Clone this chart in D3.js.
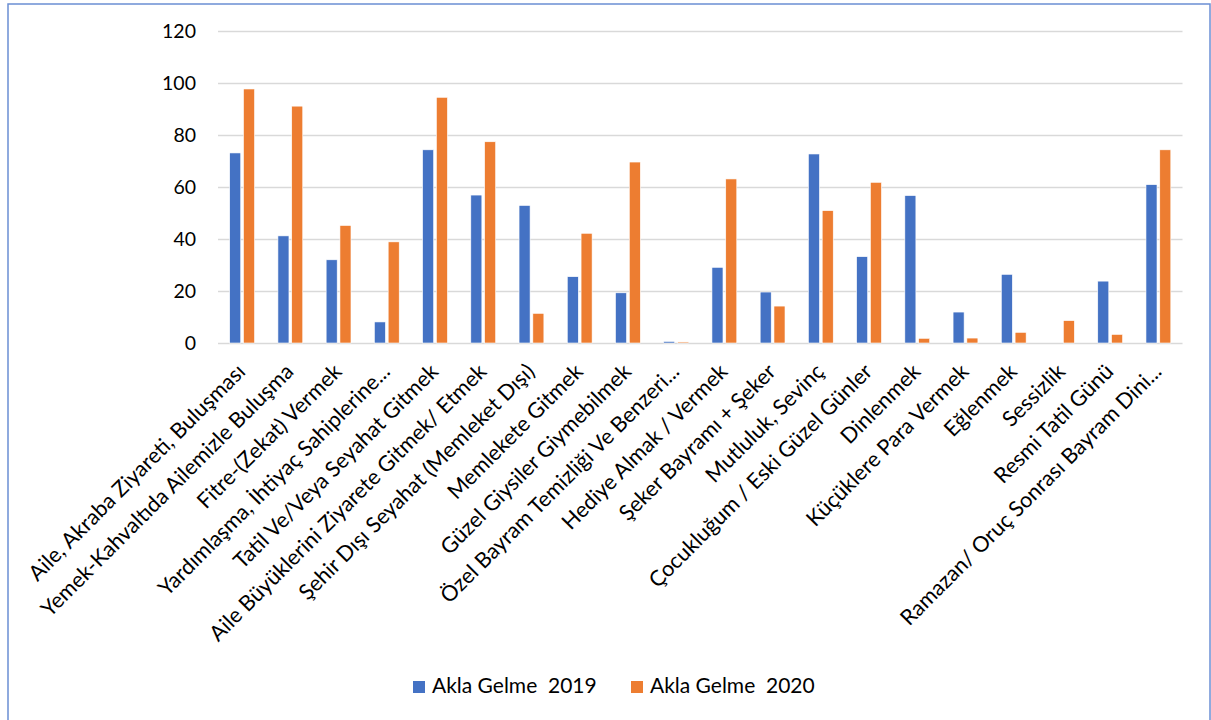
<!DOCTYPE html>
<html>
<head>
<meta charset="utf-8">
<script src="https://cdn.jsdelivr.net/npm/d3@7"></script>
<style>
  body { margin: 0; background: #fff; }
  text { font-family: Lato, "Open Sans", sans-serif; fill: #000; }
</style>
</head>
<body>
<div id="chart"></div>
<script>
// Chart data
var categories = [
  "Aile, Akraba Ziyareti, Buluşması",
  "Yemek-Kahvaltıda Ailemizle Buluşma",
  "Fitre-(Zekat) Vermek",
  "Yardımlaşma, İhtiyaç Sahiplerine...",
  "Tatil Ve/Veya Seyahat Gitmek",
  "Aile Büyüklerini Ziyarete Gitmek/ Etmek",
  "Şehir Dışı Seyahat (Memleket Dışı)",
  "Memlekete Gitmek",
  "Güzel Giysiler Giymebilmek",
  "Özel Bayram Temizliği Ve Benzeri...",
  "Hediye Almak / Vermek",
  "Şeker Bayramı + Şeker",
  "Mutluluk, Sevinç",
  "Çocukluğum / Eski Güzel Günler",
  "Dinlenmek",
  "Küçüklere Para Vermek",
  "Eğlenmek",
  "Sessizlik",
  "Resmi Tatil Günü",
  "Ramazan/ Oruç Sonrası Bayram Dini..."
];
var values2019 = [73.1, 41.2, 32, 8.1, 74.3, 56.9, 52.9, 25.5, 19.3, 0.6, 29.1, 19.6, 72.7, 33.2, 56.7, 11.9, 26.4, 0, 23.8, 60.9];
var values2020 = [97.7, 91.1, 45.2, 38.9, 94.5, 77.4, 11.4, 42.2, 69.6, 0.4, 63.1, 14.2, 50.9, 61.8, 1.8, 1.9, 4.1, 8.6, 3.3, 74.3];
var seriesNames = ["Akla Gelme  2019", "Akla Gelme  2020"];
var seriesColors = ["#4472C4", "#ED7D31"];
var yTicks = [0, 20, 40, 60, 80, 100, 120];

// SVG attributes
var width = 1211;
var height = 720;
var plotLeft = 218;
var plotRight = 1182.5;
var plotTop = 31;
var plotBottom = 343;

var svg = d3.select("#chart")
    .append("svg")
    .attr("width", width)
    .attr("height", height);

// chart border
svg.append("rect")
    .attr("x", 8)
    .attr("y", 4)
    .attr("width", 1202)
    .attr("height", 730)
    .attr("fill", "none")
    .attr("stroke", "#6b8fd4")
    .attr("stroke-width", 1.5);

// Scales
var xScale = d3.scaleBand()
    .domain(categories)
    .range([plotLeft, plotRight])
    .paddingInner(0.485)
    .paddingOuter(0.2425);

var xSeries = d3.scaleBand()
    .domain([0, 1])
    .range([0, xScale.bandwidth()])
    .paddingInner(0.2);

var yScale = d3.scaleLinear()
    .domain([0, 120])
    .range([plotBottom, plotTop]);

// y axis with gridlines
var yAxis = d3.axisLeft(yScale)
    .tickValues(yTicks)
    .tickSize(-(plotRight - plotLeft))
    .tickPadding(22);

var yG = svg.append("g")
    .attr("transform", `translate(${plotLeft}, 0)`)
    .call(yAxis);

yG.select(".domain").remove();
yG.selectAll(".tick line")
    .attr("stroke", "#d9d9d9")
    .attr("stroke-width", 1.4);
yG.selectAll(".tick text")
    .style("font-size", "19.5px")
    .attr("fill", "#000");

// Bars
var rows = categories.map(function(c, i) {
  return { cat: c, vals: [values2019[i], values2020[i]] };
});

var groups = svg.selectAll("g.group")
    .data(rows)
    .enter()
    .append("g")
    .attr("class", "group")
    .attr("transform", function(d) {
      return `translate(${xScale(d.cat)}, 0)`;
    });

groups.selectAll("rect")
    .data(function(d) { return d.vals; })
    .enter()
    .append("rect")
    .attr("x", function(d, i) { return xSeries(i); })
    .attr("y", function(d) { return yScale(d); })
    .attr("width", xSeries.bandwidth())
    .attr("height", function(d) { return plotBottom - yScale(d); })
    .attr("fill", function(d, i) { return seriesColors[i]; })
    .attr("stroke", "#ffffff")
    .attr("stroke-width", 0.6);

// Category labels, rotated
svg.append("g")
    .selectAll("text")
    .data(categories)
    .enter()
    .append("text")
    .attr("transform", function(d) {
      var cx = xScale(d) + xScale.bandwidth() / 2 + 4.5;
      return `translate(${cx}, 373) rotate(-45)`;
    })
    .attr("text-anchor", "end")
    .style("font-size", "21.6px")
    .text(function(d) { return d; });

// Legend
var legendX = [413, 631];
var legend = svg.append("g")
    .selectAll("g")
    .data(seriesNames)
    .enter()
    .append("g")
    .attr("transform", function(d, i) {
      return `translate(${legendX[i]}, 681)`;
    });

legend.append("rect")
    .attr("width", 12)
    .attr("height", 12)
    .attr("fill", function(d, i) { return seriesColors[i]; });

legend.append("text")
    .attr("x", 19)
    .attr("y", 12)
    .style("font-size", "21px")
    .style("white-space", "pre")
    .text(function(d) { return d; });
</script>
</body>
</html>
